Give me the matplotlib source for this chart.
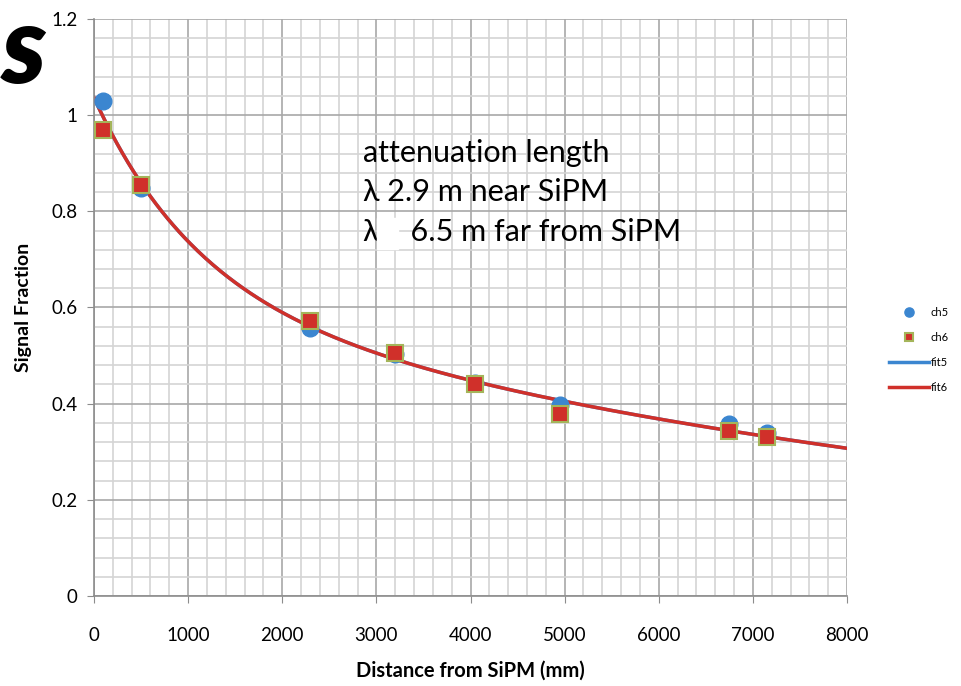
import matplotlib
matplotlib.use('Agg')
import matplotlib.pyplot as plt
import numpy as np
from scipy.optimize import curve_fit

plt.rcParams['font.family'] = ['Lato', 'DejaVu Sans']

# distances (mm) and signal fractions
dist = np.array([100, 500, 2300, 3200, 4050, 4950, 6750, 7150])
ch5 = np.array([1.03, 0.848, 0.557, 0.503, 0.443, 0.398, 0.357, 0.340])
ch6 = np.array([0.969, 0.855, 0.572, 0.505, 0.440, 0.379, 0.343, 0.331])

xticks = [0, 1000, 2000, 3000, 4000, 5000, 6000, 7000, 8000]
yticks = [0, 0.2, 0.4, 0.6, 0.8, 1, 1.2]
ytick_labels = ['0', '0.2', '0.4', '0.6', '0.8', '1', '1.2']

note = ['attenuation length', 'λ 2.9 m near SiPM', 'λ    6.5 m far from SiPM']


def f(x, a, l1, b, l2):
    return a * np.exp(-x / l1) + b * np.exp(-x / l2)


# both fits lie on top of each other in the chart -> fit the two channels together
x_all = np.concatenate([dist, dist])
y_all = np.concatenate([ch5, ch6])
p5, _ = curve_fit(f, x_all, y_all, p0=[0.5, 1000, 0.5, 6500], maxfev=20000)
p6, _ = curve_fit(f, x_all, y_all, p0=[0.5, 1000, 0.5, 6500], maxfev=20000)
x_plot = np.linspace(0, 8000, 400)

fig = plt.figure(figsize=(9.61, 6.86), dpi=100)
ax = fig.add_axes([0.0978, 0.1312, 0.7836, 0.8411])

ax.set_xlim(0, 8000)
ax.set_ylim(0, 1.2)
ax.set_xticks(xticks)
ax.set_xticks(np.arange(0, 8001, 200), minor=True)
ax.set_yticks(yticks)
ax.set_yticklabels(ytick_labels)
ax.set_yticks(np.arange(0, 1.2001, 0.04), minor=True)
ax.grid(which='major', color='#a8a8a8', linewidth=1.2)
ax.grid(which='minor', color='#d4d4d4', linewidth=1.2)
ax.set_axisbelow(True)
for s in ['top', 'right']:
    ax.spines[s].set_visible(False)
for s in ['left', 'bottom']:
    ax.spines[s].set_color('#8c8c8c')
    ax.spines[s].set_linewidth(1.2)
ax.tick_params(which='major', length=5, color='#8c8c8c', labelsize=13.5, pad=7)
ax.tick_params(which='minor', length=0)
ax.tick_params(axis='x', pad=17)

ax.plot(dist, ch5, 'o', color='#3b86d0', markersize=12, zorder=3, label='ch5')
ax.plot(dist, ch6, 's', color='#d0302a', markeredgecolor='#a4b55a',
        markeredgewidth=1.5, markersize=11, zorder=4, label='ch6')
ax.plot(x_plot, f(x_plot, *p5), '-', color='#3b86d0', linewidth=2.5, zorder=2, label='fit5')
ax.plot(x_plot, f(x_plot, *p6), '-', color='#d0302a', linewidth=2.5, zorder=2, label='fit6')

ax.set_xlabel('Distance from SiPM (mm)', fontsize=14.5, fontweight='bold', labelpad=12)
ax.set_ylabel('Signal Fraction', fontsize=14, fontweight='bold', labelpad=14)

for i, line in enumerate(note):
    ax.text(2860, 0.922 - i * 0.082, line, fontsize=22, va='center', ha='left')
ax.add_patch(plt.Rectangle((3010, 0.722), 215, 0.064, color='white', zorder=5))

leg = fig.legend(loc='center left', bbox_to_anchor=(0.915, 0.49), frameon=False,
                 fontsize=8, handlelength=3.6, handletextpad=0.15,
                 markerscale=0.55, labelspacing=1.25)

fig.text(0.002, 0.925, 's', fontsize=78, fontweight='heavy', style='italic',
         ha='left', va='center')

plt.savefig('out.png', dpi=100)
